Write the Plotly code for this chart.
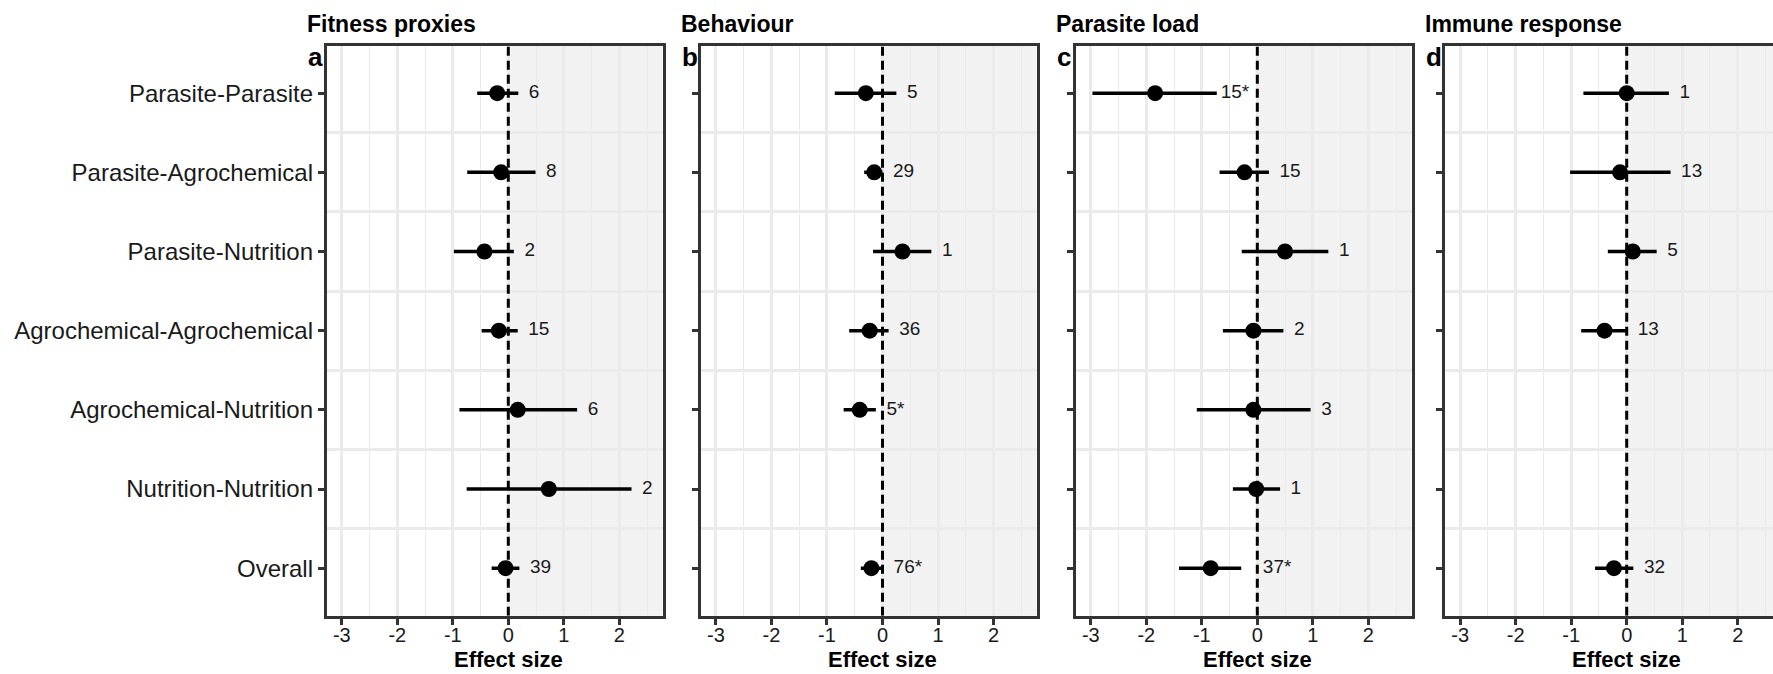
import plotly.graph_objects as go

# ---------------- data ----------------
categories = ["Parasite-Parasite", "Parasite-Agrochemical", "Parasite-Nutrition",
              "Agrochemical-Agrochemical", "Agrochemical-Nutrition",
              "Nutrition-Nutrition", "Overall"]
panel_titles = ["Fitness proxies", "Behaviour", "Parasite load", "Immune response"]
panel_tags = ["a", "b", "c", "d"]
x_ticks = [-3, -2, -1, 0, 1, 2]
x_tick_labels = ["-3", "-2", "-1", "0", "1", "2"]
x_axis_title = "Effect size"

fitness_est = [-0.20, -0.13, -0.43, -0.17, 0.17, 0.73, -0.05]
fitness_lo = [-0.56, -0.74, -0.98, -0.48, -0.88, -0.75, -0.30]
fitness_hi = [0.18, 0.49, 0.10, 0.17, 1.24, 2.22, 0.20]
fitness_k = ["6", "8", "2", "15", "6", "2", "39"]

behaviour_est = [-0.30, -0.15, 0.36, -0.23, -0.41, None, -0.20]
behaviour_lo = [-0.86, -0.33, -0.17, -0.60, -0.70, None, -0.39]
behaviour_hi = [0.25, 0.00, 0.88, 0.11, -0.12, None, 0.01]
behaviour_k = ["5", "29", "1", "36", "5*", None, "76*"]

parasite_est = [-1.84, -0.23, 0.50, -0.07, -0.07, -0.02, -0.84]
parasite_lo = [-2.97, -0.68, -0.28, -0.62, -1.09, -0.44, -1.41]
parasite_hi = [-0.73, 0.21, 1.28, 0.47, 0.96, 0.41, -0.29]
parasite_k = ["15*", "15", "1", "2", "3", "1", "37*"]

immune_est = [0.00, -0.12, 0.11, -0.40, None, None, -0.23]
immune_lo = [-0.78, -1.02, -0.34, -0.82, None, None, -0.57]
immune_hi = [0.76, 0.79, 0.54, 0.01, None, None, 0.12]
immune_k = ["1", "13", "5", "13", None, None, "32"]

panels = [
    (fitness_est, fitness_lo, fitness_hi, fitness_k),
    (behaviour_est, behaviour_lo, behaviour_hi, behaviour_k),
    (parasite_est, parasite_lo, parasite_hi, parasite_k),
    (immune_est, immune_lo, immune_hi, immune_k),
]

# ---------------- layout geometry ----------------
W, H = 1773, 674
PANEL_LEFT = [326.8, 701.0, 1075.8, 1445.2]
PANEL_W = 335.8
PANEL_TOP, PANEL_BOTTOM = 45.7, 615.7
X_MIN, X_MAX = -3.27, 2.78
Y_RANGE = [len(categories) + 0.6, 0.4]
LABEL_NUDGE = 0.19
LABEL_WIDTH = 0.58   # approx. width of a count label, in effect-size units
ZERO_CLEAR = 0.1     # labels that would cross the zero line are moved off it

FONT = "Liberation Sans, Arial, Helvetica, sans-serif"
BORDER = "#333333"
GRID = "#EBEBEB"
SHADE = "#F2F2F2"


def label_x(h):
    x = h + LABEL_NUDGE
    if x < 0 < x + LABEL_WIDTH:
        x = ZERO_CLEAR if h > -LABEL_WIDTH else -LABEL_WIDTH - 0.08
    return x


fig = go.Figure()
ydom = [1 - PANEL_BOTTOM / H, 1 - PANEL_TOP / H]
rows = list(range(1, len(categories) + 1))

annotations = []
shapes = []
for p, (est, lo, hi, k) in enumerate(panels):
    sfx = "" if p == 0 else str(p + 1)
    xa, ya = "x" + sfx, "y" + sfx
    left = PANEL_LEFT[p]
    right = min(left + PANEL_W, W)
    xmax = X_MIN + (right - left) / PANEL_W * (X_MAX - X_MIN)

    # dashed zero reference line
    fig.add_trace(go.Scatter(x=[0, 0], y=Y_RANGE, mode="lines", xaxis=xa, yaxis=ya,
                             line=dict(color="black", width=3, dash="9px,5px"),
                             hoverinfo="skip", showlegend=False))
    # error bars
    ex, ey = [], []
    for r, l, h in zip(rows, lo, hi):
        if l is None:
            continue
        ex += [l, h, None]
        ey += [r, r, None]
    fig.add_trace(go.Scatter(x=ex, y=ey, mode="lines", xaxis=xa, yaxis=ya,
                             line=dict(color="black", width=3.5),
                             hoverinfo="skip", showlegend=False))
    # points
    px_ = [e for e in est if e is not None]
    py_ = [r for r, e in zip(rows, est) if e is not None]
    fig.add_trace(go.Scatter(x=px_, y=py_, mode="markers", xaxis=xa, yaxis=ya,
                             marker=dict(color="black", size=16, line=dict(width=0)),
                             showlegend=False))
    # count labels
    tx = [label_x(h) for h in hi if h is not None]
    ty = [r for r, h in zip(rows, hi) if h is not None]
    tt = [t for t in k if t is not None]
    fig.add_trace(go.Scatter(x=tx, y=ty, text=tt, mode="text", xaxis=xa, yaxis=ya,
                             textposition="middle right",
                             textfont=dict(family=FONT, size=19, color="#1a1a1a"),
                             hoverinfo="skip", showlegend=False))

    dom = [left / W, right / W]
    fig.layout["xaxis" + sfx] = dict(
        domain=dom, anchor=ya, range=[X_MIN, xmax],
        tickmode="array", tickvals=x_ticks, ticktext=x_tick_labels,
        ticks="outside", ticklen=6, tickwidth=2.5, tickcolor=BORDER,
        ticklabelstandoff=-7,
        tickfont=dict(family=FONT, size=20, color="#1a1a1a"),
        showgrid=True, gridcolor=GRID, gridwidth=2.5,
        minor=dict(tickmode="array", tickvals=[-2.5, -1.5, -0.5, 0.5, 1.5, 2.5],
                   showgrid=True, gridcolor=GRID, gridwidth=1.2),
        zeroline=False, showline=True, linecolor=BORDER, linewidth=3, mirror=True,
    )
    fig.layout["yaxis" + sfx] = dict(
        domain=ydom, anchor=xa, range=Y_RANGE,
        tickmode="array", tickvals=rows, ticktext=categories,
        showticklabels=(p == 0),
        ticks="outside", ticklen=6, tickwidth=2.5, tickcolor=BORDER,
        tickfont=dict(family=FONT, size=24, color="#1a1a1a"),
        showgrid=False,
        minor=dict(tickmode="array", tickvals=[r + 0.5 for r in rows[:-1]],
                   showgrid=True, gridcolor=GRID, gridwidth=2.5),
        zeroline=False, showline=True, linecolor=BORDER, linewidth=3,
        mirror=(p != 3),
    )

    # positive-effect shading
    shapes.append(dict(type="rect", xref=xa, yref=ya + " domain", x0=0, x1=xmax,
                       y0=0, y1=1, fillcolor=SHADE, line=dict(width=0), layer="below"))

    # titles, tags, x-axis titles
    annotations.append(dict(text="<b>" + panel_titles[p] + "</b>", xref="paper", yref="paper",
                            x=(left - 22) / W, y=1 - 24 / H, xanchor="left", yanchor="middle",
                            showarrow=False, font=dict(family=FONT, size=23, color="black")))
    annotations.append(dict(text="<b>" + panel_tags[p] + "</b>", xref="paper", yref="paper",
                            x=(left - 21) / W, y=1 - 57 / H, xanchor="left", yanchor="middle",
                            showarrow=False, font=dict(family=FONT, size=26, color="black")))
    annotations.append(dict(text="<b>" + x_axis_title + "</b>", xref=xa, yref="paper",
                            x=0, y=1 - 659 / H, xanchor="center", yanchor="middle",
                            showarrow=False, font=dict(family=FONT, size=22, color="black")))

fig.update_layout(
    width=W, height=H, margin=dict(l=0, r=0, t=0, b=0),
    paper_bgcolor="white", plot_bgcolor="white",
    shapes=shapes, annotations=annotations, showlegend=False,
    font=dict(family=FONT),
)

fig.write_html("out.html")
